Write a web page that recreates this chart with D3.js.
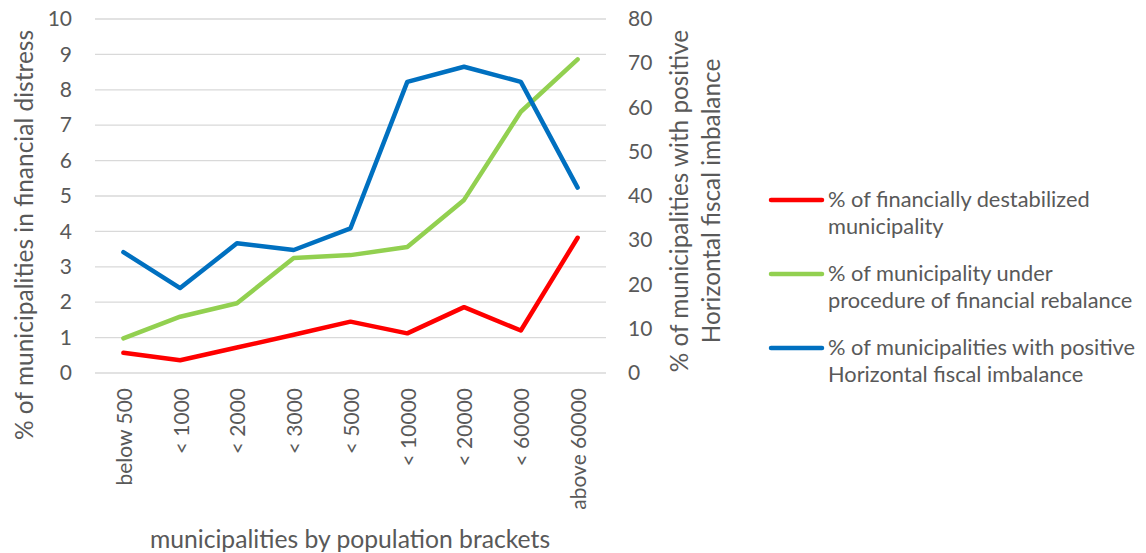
<!DOCTYPE html>
<html>
<head>
<meta charset="utf-8">
<script src="https://cdn.jsdelivr.net/npm/d3@7"></script>
<style>
  body { margin: 0; background: #fff; }
  svg text { font-family: Lato, "Open Sans", sans-serif; fill: #595959; }
</style>
</head>
<body>
<svg id="chart" width="1146" height="553"></svg>
<script>
// Population brackets along the x axis
const categories = ["below 500", "< 1000", "< 2000", "< 3000", "< 5000", "< 10000", "< 20000", "< 60000", "above 60000"];

// Left axis series (%)
const destabilized = [0.57, 0.36, 0.72, 1.08, 1.45, 1.12, 1.86, 1.2, 3.82];
const rebalance = [0.98, 1.59, 1.97, 3.25, 3.33, 3.56, 4.89, 7.38, 8.86];

// Right axis series (%)
const positiveImbalance = [27.3, 19.2, 29.3, 27.8, 32.7, 65.8, 69.2, 65.8, 41.9];

const leftTicks = [0, 1, 2, 3, 4, 5, 6, 7, 8, 9, 10];
const rightTicks = [0, 10, 20, 30, 40, 50, 60, 70, 80];

const seriesNames = [
  ["% of financially destabilized", "municipality"],
  ["% of municipality under", "procedure of financial rebalance"],
  ["% of municipalities with positive", "Horizontal fiscal imbalance"]
];
const colors = ["#FF0000", "#92D050", "#0070C0"];

const svg = d3.select("#chart");
const plot = { left: 95, right: 606, top: 19, bottom: 373 };

const x = d3.scaleBand().domain(categories).range([plot.left, plot.right]);
const yL = d3.scaleLinear().domain([0, 10]).range([plot.bottom, plot.top]);
const yR = d3.scaleLinear().domain([0, 80]).range([plot.bottom, plot.top]);

// Horizontal gridlines
svg.append("g")
  .selectAll("line")
  .data(leftTicks)
  .join("line")
  .attr("x1", plot.left).attr("x2", plot.right)
  .attr("y1", d => yL(d)).attr("y2", d => yL(d))
  .attr("stroke", "#d9d9d9").attr("stroke-width", 1.3);

// Left axis
const leftAxis = svg.append("g")
  .attr("transform", `translate(${plot.left},0)`)
  .call(d3.axisLeft(yL).tickValues(leftTicks).tickSize(0).tickPadding(23));
leftAxis.select(".domain").remove();
leftAxis.selectAll("text").attr("font-size", 21).style("font-family", "Lato, sans-serif").attr("fill", "#595959");

// Right axis
const rightAxis = svg.append("g")
  .attr("transform", `translate(${plot.right},0)`)
  .call(d3.axisRight(yR).tickValues(rightTicks).tickSize(0).tickPadding(22));
rightAxis.select(".domain").remove();
rightAxis.selectAll("text").attr("font-size", 21).style("font-family", "Lato, sans-serif").attr("fill", "#595959");

// Bottom axis with rotated category labels
const bottomAxis = svg.append("g")
  .attr("transform", `translate(0,${plot.bottom})`)
  .call(d3.axisBottom(x).tickSize(0).tickPadding(0));
bottomAxis.select(".domain").remove();
bottomAxis.selectAll("text")
  .attr("font-size", 21)
  .style("font-family", "Lato, sans-serif")
  .attr("fill", "#595959")
  .attr("text-anchor", "end")
  .attr("dy", "0.35em")
  .attr("transform", "translate(1,15) rotate(-90)")
  .attr("x", 0).attr("y", 0);

// Lines
const lineL = d3.line().x((d, i) => x(categories[i]) + x.bandwidth() / 2).y(d => yL(d));
const lineR = d3.line().x((d, i) => x(categories[i]) + x.bandwidth() / 2).y(d => yR(d));

const paths = [
  { data: destabilized, gen: lineL, color: colors[0] },
  { data: rebalance, gen: lineL, color: colors[1] },
  { data: positiveImbalance, gen: lineR, color: colors[2] }
];
paths.forEach(p => {
  svg.append("path")
    .attr("d", p.gen(p.data))
    .attr("fill", "none")
    .attr("stroke", p.color)
    .attr("stroke-width", 4.5)
    .attr("stroke-linejoin", "round")
    .attr("stroke-linecap", "round");
});

// Axis titles
svg.append("text")
  .attr("transform", "translate(33,235) rotate(-90)")
  .attr("text-anchor", "middle")
  .attr("font-size", 24.5)
  .text("% of municipalities in financial distress");

const rt = svg.append("text")
  .attr("transform", "translate(688,201) rotate(-90)")
  .attr("text-anchor", "middle")
  .attr("font-size", 24.3);
rt.append("tspan").attr("x", 0).attr("dy", 0).text("% of municipalities with positive");
rt.append("tspan").attr("x", 0).attr("dy", 32).text("Horizontal fiscal imbalance");

svg.append("text")
  .attr("x", 350).attr("y", 548)
  .attr("text-anchor", "middle")
  .attr("font-size", 24.7)
  .text("municipalities by population brackets");

// Legend
const legend = svg.append("g");
seriesNames.forEach((lines, i) => {
  const y0 = 200 + i * 74;
  legend.append("line")
    .attr("x1", 771).attr("x2", 822)
    .attr("y1", y0).attr("y2", y0)
    .attr("stroke", colors[i]).attr("stroke-width", 4.5)
    .attr("stroke-linecap", "round");
  const t = legend.append("text")
    .attr("x", 828).attr("y", y0 + 7)
    .attr("font-size", 21.8);
  t.append("tspan").attr("x", 828).attr("dy", 0).text(lines[0]);
  t.append("tspan").attr("x", 828).attr("dy", 27).text(lines[1]);
});
</script>
</body>
</html>
